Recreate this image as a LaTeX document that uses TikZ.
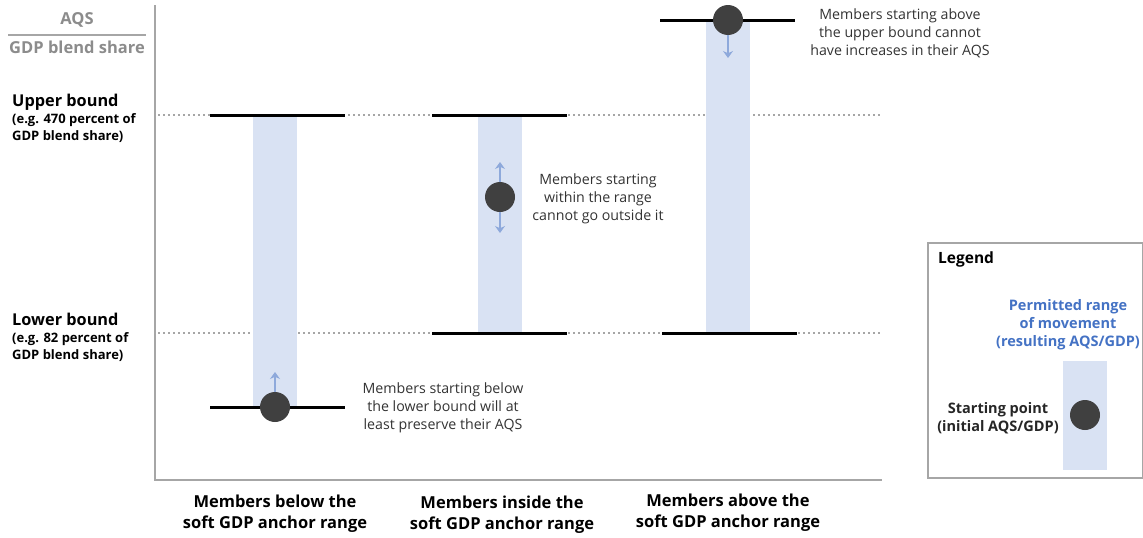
\documentclass[tikz,border=0pt]{standalone}
\usepackage{fontspec}
\setmainfont{Open Sans}
\usetikzlibrary{arrows.meta}
\definecolor{axisgray}{HTML}{A6A6A6}
\definecolor{rangeblue}{HTML}{D9E2F3}
\definecolor{arrowblue}{HTML}{8EA9DB}
\definecolor{dotgray}{HTML}{404040}
\definecolor{labelblue}{HTML}{4472C4}
\definecolor{titlegray}{HTML}{8C8C8C}
\tikzset{
  axis/.style={draw=axisgray, line width=2pt},
  boundline/.style={draw=axisgray, line width=1.8pt, dash pattern=on 2pt off 3pt},
  level/.style={draw=black, line width=3pt},
  rangebar/.style={fill=rangeblue, draw=none},
  startdot/.style={circle, fill=dotgray, minimum size=30pt, inner sep=0pt},
  move/.style={draw=arrowblue, line width=2pt, -{Stealth[length=7pt,width=10pt]}},
  note/.style={align=center, font=\fontsize{14.2}{18}\selectfont, text=black!80, inner sep=0pt},
  boundlabel/.style={align=left, anchor=north west, inner sep=0pt, font=\bfseries\fontsize{13}{17}\selectfont},
  category/.style={align=center, font=\bfseries\fontsize{16.5}{21}\selectfont, inner sep=0pt},
}
\begin{document}
\begin{tikzpicture}[x=1pt, y=-1pt]
\useasboundingbox (0,0) rectangle (1143,538);

% axis title
\node[font=\bfseries\fontsize{16.5}{18}\selectfont, text=titlegray] (aqs) at (77,20) {AQS};
\draw[draw=axisgray, line width=1.2pt] (8,35) -- (146,35);
\node[font=\bfseries\fontsize{16.5}{18}\selectfont, text=titlegray] (gdp) at (77,47) {GDP blend share};

% bound labels
\node[boundlabel] (ub) at (12,94) {{\fontsize{16.3}{17}\selectfont Upper bound}\\[0pt](e.g. 470 percent of\\GDP blend share)};
\node[boundlabel] (lb) at (12,313) {{\fontsize{16.3}{17}\selectfont Lower bound}\\[0pt](e.g. 82 percent of\\GDP blend share)};

% dotted bound lines
\coordinate (ubL) at (158,115); \coordinate (ubR) at (880,115);
\coordinate (lbL) at (158,333); \coordinate (lbR) at (880,333);
\draw[boundline] (ubL) -- (ubR);
\draw[boundline] (lbL) -- (lbR);

% ranges of movement
\fill[rangebar] (253,115) rectangle (297,407);
\fill[rangebar] (478,115) rectangle (522,333);
\fill[rangebar] (706,20) rectangle (750,333);

% axes
\coordinate (o) at (155,480);
\coordinate (ytop) at (155,5);
\coordinate (xend) at (882,480);
\draw[axis] (ytop) -- (o) -- (xend);

% column 1: below the range
\draw[level] (210,115) -- (345,115);
\draw[level] (210,407) -- (345,407);
\node[startdot] (d1) at (275,407) {};
\coordinate (a1) at (275,372);
\draw[move] (d1.north) -- (a1);
\node[note] (n1) at (443,408) {Members starting below\\the lower bound will at\\least preserve their AQS};

% column 2: inside the range
\draw[level] (432,115) -- (567,115);
\draw[level] (432,333) -- (567,333);
\node[startdot] (d2) at (500,197) {};
\coordinate (a2u) at (500,162);
\coordinate (a2d) at (500,233);
\draw[move] (d2.north) -- (a2u);
\draw[move] (d2.south) -- (a2d);
\node[note] (n2) at (598,199) {Members starting\\within the range\\cannot go outside it};

% column 3: above the range
\draw[level] (660,20) -- (795,20);
\draw[level] (662,333) -- (797,333);
\node[startdot] (d3) at (728,20) {};
\coordinate (a3) at (728,58);
\draw[move] (d3.south) -- (a3);
\node[note] (n3) at (900,33) {Members starting above\\the upper bound cannot\\have increases in their AQS};

% category labels
\node[category] (c1) at (275,514) {Members below the\\soft GDP anchor range};
\node[category] (c2) at (502,515) {Members inside the\\soft GDP anchor range};
\node[category] (c3) at (728,513) {Members above the\\soft GDP anchor range};

% legend
\draw[draw=axisgray, line width=2pt] (928,243) rectangle (1143,478);
\node[anchor=west, font=\bfseries\fontsize{15.5}{16}\selectfont, inner sep=0pt] (lg) at (938,259) {Legend};
\node[align=center, font=\bfseries\fontsize{14.5}{18}\selectfont, text=labelblue, inner sep=0pt] (lgr) at (1068,325) {Permitted range\\of movement\\(resulting AQS/GDP)};
\fill[rangebar] (1063,361) rectangle (1107,470);
\node[startdot] (lgd) at (1085,415) {};
\node[align=center, font=\bfseries\fontsize{14.5}{18}\selectfont, text=black!85, inner sep=0pt] (lgs) at (998,418) {Starting point\\(initial AQS/GDP)};
\end{tikzpicture}
\end{document}
